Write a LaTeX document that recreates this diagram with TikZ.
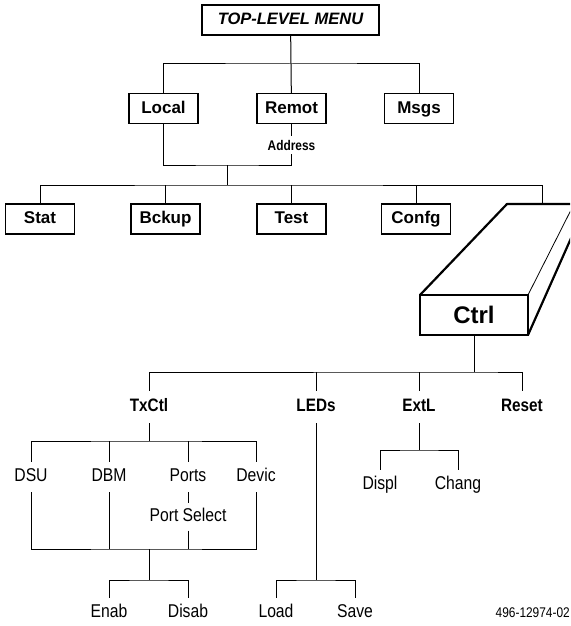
\documentclass[tikz,border=0pt]{standalone}
\usepackage{fontspec}
\setmainfont{Liberation Sans}
\newfontfamily\narrowfont{Liberation Sans}[FakeStretch=0.85]
\usetikzlibrary{positioning, calc}
\tikzstyle{menubox} = [rectangle, draw=black, line width=1.1pt, minimum width=69pt, minimum height=30pt,
    inner sep=0pt, text height=12.5pt, text depth=3.5pt, font=\fontsize{17}{20}\selectfont\bfseries]
\tikzstyle{topbox} = [menubox, minimum width=177pt, font=\fontsize{16.5}{20}\selectfont\bfseries\itshape]
\tikzstyle{ctrlbox} = [rectangle, draw=black, line width=2.2pt, outer sep=0pt, minimum width=108pt,
    minimum height=40pt, inner sep=0pt, font=\fontsize{24}{28}\selectfont\bfseries]
\tikzstyle{head} = [inner sep=0pt, minimum height=32pt, text height=13pt, text depth=3.5pt,
    font=\narrowfont\fontsize{18}{20}\selectfont\bfseries]
\tikzstyle{item} = [inner sep=0pt, minimum height=30pt, text height=13pt, text depth=3.5pt,
    font=\narrowfont\fontsize{18.5}{20}\selectfont]
\tikzstyle{conn} = [line width=1pt]
\tikzstyle{slab} = [line width=2.2pt, line join=round]

\begin{document}
\begin{tikzpicture}[x=1pt, y=-1pt]
\useasboundingbox (0,0) rectangle (570,626);
\clip (0,0) rectangle (570,626);

\node (top) [topbox] at (290.5,20) {TOP-LEVEL MENU};
\node (local) [menubox] at (163.5,108.5) {Local};
\node (remot) [menubox] at (291.5,108.5) {Remot};
\node (msgs) [menubox] at (419,108.5) {Msgs};
\node (addr) [head, minimum height=18pt, text height=10pt, text depth=0pt,
    font=\narrowfont\fontsize{14}{16}\selectfont\bfseries, below=12pt of remot] {Address};

\node (stat) [menubox] at (40,219) {Stat};
\node (bckup) [menubox] at (165.5,219) {Bckup};
\node (test) [menubox] at (291.5,219) {Test};
\node (confg) [menubox] at (416,219) {Confg};
\node (ctrl) [ctrlbox] at (474,315) {Ctrl};

\node (txctl) [head] at (149,407) {TxCtl};
\node (leds) [head] at (316,407) {LEDs};
\node (extl) [head] at (419,407) {ExtL};
\node (reset) [head] at (522,407) {Reset};

\node (dsu) [item] at (31,477) {DSU};
\node (dbm) [item] at (109,477) {DBM};
\node (ports) [item] at (188,477) {Ports};
\node (devic) [item] at (256,477) {Devic};
\node (psel) [item, minimum height=27pt, below=11pt of ports] {Port Select};
\node (displ) [item] at (380,485) {Displ};
\node (chang) [item] at (458,485) {Chang};
\node (enab) [item] at (109,613) {Enab};
\node (disab) [item] at (188,613) {Disab};
\node (load) [item] at (276,613) {Load};
\node (save) [item] at (355,613) {Save};
\node (fignum) [item, anchor=east, font=\narrowfont\fontsize{14}{16}\selectfont] at (570,613) {496-12974-02};

% the Ctrl slab
\draw[slab] (ctrl.north west) -- (507,204) -- (580,204);
\draw[line width=0.8pt] (ctrl.north east) -- (574,204);
\draw[slab] (ctrl.south east) -- ++(52,-117);

\coordinate (mbus) at (291,64);
\coordinate (lbus) at (227,165);
\coordinate (sbus) at (227,185);
\coordinate (ctop) at (542,204);
\draw[conn] (top) -- (mbus);
\draw[conn] (local) |- (mbus) -| (msgs);
\draw[conn] (mbus) -- (remot);
\draw[conn] (remot) -- (addr);
\draw[conn] (local) |- (lbus) -| (addr);
\draw[conn] (lbus) -- (sbus);
\draw[conn] (stat) |- (sbus) -| (ctop);
\draw[conn] (bckup) -- (bckup |- sbus);
\draw[conn] (test) -- (test |- sbus);
\draw[conn] (confg) -- (confg |- sbus);

\coordinate (cbus) at (474,372);
\draw[conn] (ctrl) -- (cbus);
\draw[conn] (txctl) |- (cbus) -| (reset);
\draw[conn] (leds) -- (leds |- cbus);
\draw[conn] (extl) -- (extl |- cbus);

\coordinate (tbus) at (149,441);
\coordinate (pbus) at (149,549);
\coordinate (ebus) at (149,580);
\draw[conn] (txctl) -- (tbus);
\draw[conn] (dsu) |- (tbus) -| (devic);
\draw[conn] (dbm) -- (dbm |- tbus);
\draw[conn] (ports) -- (ports |- tbus);
\draw[conn] (ports) -- (psel);
\draw[conn] (dsu) |- (pbus) -| (devic);
\draw[conn] (dbm) -- (dbm |- pbus);
\draw[conn] (psel) -- (psel |- pbus);
\draw[conn] (pbus) -- (ebus);
\draw[conn] (enab) |- (ebus) -| (disab);

\coordinate (dbus) at (316,580);
\draw[conn] (leds) -- (dbus);
\draw[conn] (load) |- (dbus) -| (save);

\coordinate (xbus) at (419,450);
\draw[conn] (extl) -- (xbus);
\draw[conn] (displ) |- (xbus) -| (chang);
\end{tikzpicture}
\end{document}
